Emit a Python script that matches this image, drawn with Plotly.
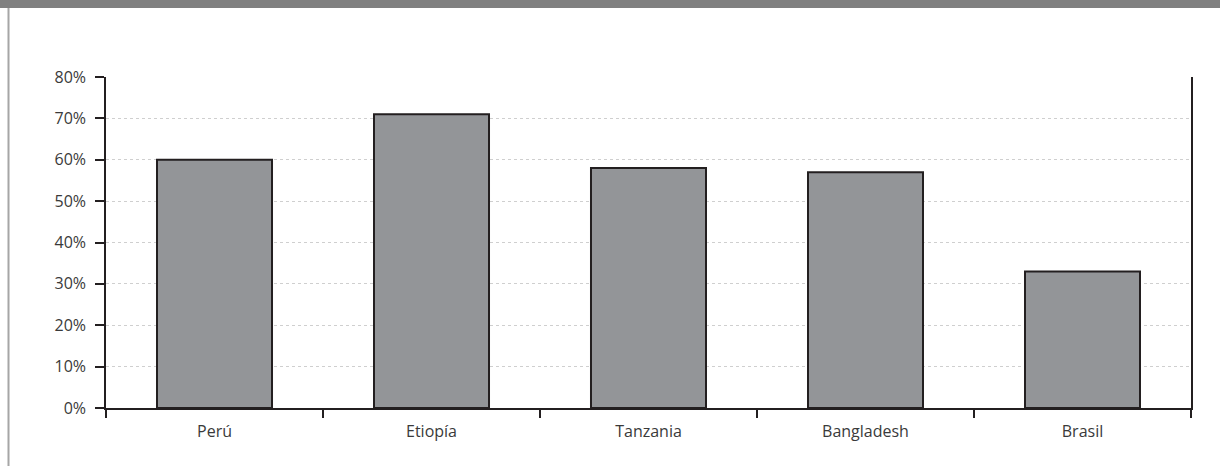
import plotly.graph_objects as go

countries = ["Perú", "Etiopía", "Tanzania", "Bangladesh", "Brasil"]
values = [60, 71, 58, 57, 33]
y_ticks = [0, 10, 20, 30, 40, 50, 60, 70, 80]
y_tick_labels = [f"{v}%" for v in y_ticks]

W, H = 1220, 466
L, R, T, B = 106, 29, 77, 58
pw, ph = W - L - R, H - T - B

def px_x(px):
    return (px - L) / pw

def px_y(py):
    return (H - B - py) / ph

fig = go.Figure(
    go.Bar(
        x=countries,
        y=values,
        width=0.53,
        marker=dict(color="#939598", line=dict(color="#231f20", width=2)),
        hoverinfo="skip",
    )
)

font = dict(family="Open Sans, Noto Sans, sans-serif", size=16, color="#3a3a3a")

fig.update_layout(
    width=W,
    height=H,
    margin=dict(l=L, r=R, t=T, b=B, pad=0),
    paper_bgcolor="white",
    plot_bgcolor="white",
    font=font,
    showlegend=False,
    shapes=[
        # top grey band
        dict(type="rect", xref="paper", yref="paper",
             x0=px_x(0), x1=px_x(W), y0=px_y(8), y1=px_y(0),
             fillcolor="#808080", line=dict(width=0), layer="above"),
        # left frame line
        dict(type="line", xref="paper", yref="paper",
             x0=px_x(8.5), x1=px_x(8.5), y0=px_y(8), y1=px_y(H),
             line=dict(color="#a6a6a6", width=2)),
    ],
)

fig.update_xaxes(
    type="category",
    showline=True, linecolor="#231f20", linewidth=1.5,
    ticks="outside", ticklen=8, tickwidth=1.5, tickcolor="#231f20",
    tickson="boundaries",
    showgrid=False,
    tickfont=font,
    ticklabelstandoff=8,
)
fig.update_yaxes(
    range=[0, 80],
    tickvals=y_ticks, ticktext=y_tick_labels,
    showline=True, linecolor="#231f20", linewidth=1.5, mirror=True,
    ticks="outside", ticklen=9, tickwidth=1.5, tickcolor="#231f20",
    showgrid=True, gridcolor="#cfcfcf", griddash="dot", gridwidth=1,
    zeroline=False,
    tickfont=font,
    ticklabelstandoff=6,
)

fig.write_html(
    "out.html",
    config={"displayModeBar": False},
    post_script="document.body.style.margin='0';document.body.style.padding='0';",
)
